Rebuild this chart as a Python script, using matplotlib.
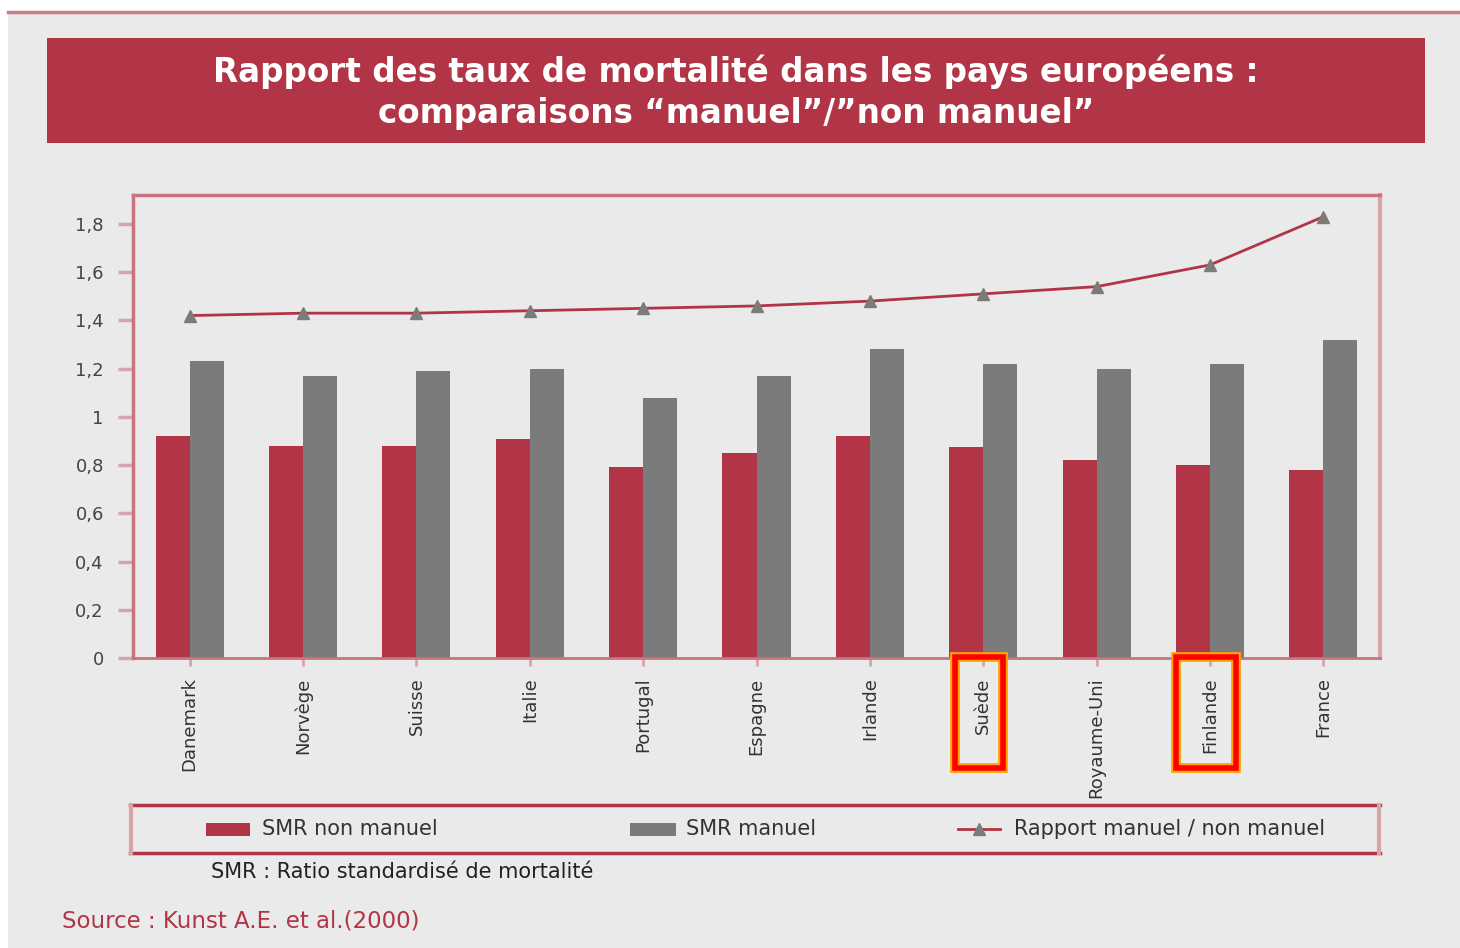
import matplotlib
matplotlib.use("Agg")
import matplotlib.pyplot as plt
from matplotlib.patches import Rectangle
from matplotlib.lines import Line2D
import numpy as np

plt.rcParams['font.family'] = ['DejaVu Sans']

countries = ["Danemark", "Norvège", "Suisse", "Italie", "Portugal", "Espagne",
             "Irlande", "Suède", "Royaume-Uni", "Finlande", "France"]
smr_non_manuel = [0.92, 0.88, 0.88, 0.91, 0.79, 0.85, 0.92, 0.875, 0.82, 0.80, 0.78]
smr_manuel = [1.23, 1.17, 1.19, 1.20, 1.08, 1.17, 1.28, 1.22, 1.20, 1.22, 1.32]
rapport = [1.42, 1.43, 1.43, 1.44, 1.45, 1.46, 1.48, 1.51, 1.54, 1.63, 1.83]
yticks = [0, 0.2, 0.4, 0.6, 0.8, 1.0, 1.2, 1.4, 1.6, 1.8]
ytick_labels = ["0", "0,2", "0,4", "0,6", "0,8", "1", "1,2", "1,4", "1,6", "1,8"]
highlighted = ["Suède", "Finlande"]
legend_labels = ["SMR non manuel", "SMR manuel", "Rapport manuel / non manuel"]

RED = "#b13546"
GRAY = "#7b7b7b"
PINK = "#c8737d"
LPINK = "#d6a5aa"
BG = "#eaeaea"

W, H = 1460, 948
fig = plt.figure(figsize=(W / 100, H / 100), dpi=100)
fig.patch.set_facecolor("white")

def fx(px):
    return px / W

def fy(py):
    return 1 - py / H

# gray background panel
fig.add_artist(Rectangle((fx(8), 0), fx(1452), 1 - 12 / H, transform=fig.transFigure,
                         facecolor=BG, edgecolor="none", zorder=0))
# top pink line
fig.add_artist(Line2D([fx(8), 1], [fy(12), fy(12)], transform=fig.transFigure,
                      color="#c97d85", lw=2.5, zorder=1))

# title box
fig.add_artist(Rectangle((fx(47), fy(143)), fx(1425 - 47), (143 - 38) / H,
                         transform=fig.transFigure, facecolor=RED, edgecolor="none", zorder=1))
fig.text(fx(736), fy(92), "Rapport des taux de mortalité dans les pays européens :\ncomparaisons \u201cmanuel\u201d/\u201dnon manuel\u201d",
         ha="center", va="center", color="white", fontsize=23.5, fontweight="bold",
         linespacing=1.3, zorder=2)

# main axes
ax = fig.add_axes([fx(133), fy(658), fx(1380 - 133), (658 - 195) / H])
ax.set_facecolor(BG)
x = np.arange(len(countries))
bw = 0.3
ax.bar(x - bw / 2, smr_non_manuel, width=bw, color=RED, zorder=2)
ax.bar(x + bw / 2, smr_manuel, width=bw, color=GRAY, zorder=2)
ax.plot(x, rapport, color=RED, lw=2, marker="^", markersize=8, markerfacecolor=GRAY,
        markeredgecolor=GRAY, zorder=3)

ax.set_xlim(-0.5, len(countries) - 0.5)
ax.set_ylim(0, 1.92)
ax.set_yticks(yticks)
ax.set_yticklabels(ytick_labels, fontsize=13, color="#444444")
ax.set_xticks(x)
ax.set_xticklabels(countries, rotation=90, fontsize=13, color="#333333", va="top", ha="center")
ax.tick_params(axis="y", direction="out", length=11, width=2.5, color=LPINK, pad=10)
ax.tick_params(axis="x", direction="out", length=6, width=2, color=LPINK, pad=8)

ax.spines["left"].set_color(PINK)
ax.spines["left"].set_linewidth(2.5)
ax.spines["top"].set_color(PINK)
ax.spines["top"].set_linewidth(2.5)
ax.spines["right"].set_color(LPINK)
ax.spines["right"].set_linewidth(3)
ax.spines["bottom"].set_color(PINK)
ax.spines["bottom"].set_linewidth(2)

# highlight boxes around selected labels
box_px = {"Suède": (955, 1003), "Finlande": (1176, 1236)}
for name in highlighted:
    x0, x1 = box_px[name]
    for lw, col in [(7, "#ffa500"), (4, "#ff0000")]:
        fig.add_artist(Rectangle((fx(x0), fy(768)), fx(x1 - x0), (768 - 657) / H,
                                 transform=fig.transFigure, facecolor="none",
                                 edgecolor=col, lw=lw, zorder=5))

# legend box
fig.add_artist(Line2D([fx(130), fx(1380)], [fy(805), fy(805)], transform=fig.transFigure, color=RED, lw=2.5))
fig.add_artist(Line2D([fx(130), fx(1380)], [fy(853), fy(853)], transform=fig.transFigure, color=RED, lw=2.5))
fig.add_artist(Line2D([fx(131), fx(131)], [fy(805), fy(853)], transform=fig.transFigure, color=LPINK, lw=3))
fig.add_artist(Line2D([fx(1379), fx(1379)], [fy(805), fy(853)], transform=fig.transFigure, color=LPINK, lw=3))

# legend entries
ly = 829
fig.add_artist(Rectangle((fx(206), fy(836)), fx(44), 13 / H, transform=fig.transFigure,
                         facecolor=RED, edgecolor="none"))
fig.add_artist(Rectangle((fx(630), fy(836)), fx(46), 13 / H, transform=fig.transFigure,
                         facecolor=GRAY, edgecolor="none"))
fig.add_artist(Line2D([fx(958), fx(1000)], [fy(ly), fy(ly)], transform=fig.transFigure,
                      color=RED, lw=2))
fig.add_artist(Line2D([fx(979)], [fy(ly)], transform=fig.transFigure, marker="^",
                      markersize=8, color=GRAY, linestyle="none"))
for px, lab in zip([262, 686, 1014], legend_labels):
    fig.text(fx(px), fy(ly), lab, ha="left", va="center", fontsize=15, color="#333333")

fig.text(fx(211), fy(872), "SMR : Ratio standardisé de mortalité", ha="left", va="center",
         fontsize=15, color="#222222")
fig.text(fx(62), fy(921), "Source : Kunst A.E. et al.(2000)", ha="left", va="center",
         fontsize=16.5, color=RED)

fig.savefig("out.png", dpi=100, facecolor=fig.get_facecolor())
